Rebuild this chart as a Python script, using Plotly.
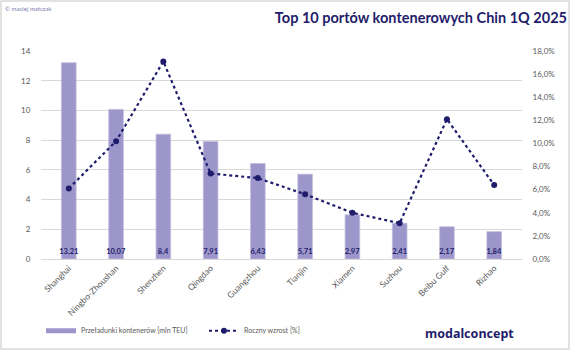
import plotly.graph_objects as go

ports = ["Shanghai", "Ningbo-Zhoushan", "Shenzhen", "Qingdao", "Guangzhou",
         "Tianjin", "Xiamen", "Suzhou", "Beibu Gulf", "Rizhao"]
throughput = [13.21, 10.07, 8.4, 7.91, 6.43, 5.71, 2.97, 2.41, 2.17, 1.84]
growth = [6.1, 10.2, 17.1, 7.4, 7.0, 5.6, 4.0, 3.1, 12.1, 6.4]
labels = [f"{v:g}".replace(".", ",") for v in throughput]

BAR = "#9D96CA"
NAVY = "#1F1D6B"
GRAY = "#595959"
FONT = "Lato, 'Open Sans', sans-serif"

fig = go.Figure()
fig.add_trace(go.Bar(
    x=ports, y=throughput, name="Przeładunki kontenerów [mln TEU]",
    marker=dict(color=BAR, line=dict(color="#C3BEE0", width=0.8)),
    width=0.31, text=labels, textposition="inside", insidetextanchor="start",
    textangle=0, constraintext="none",
    textfont=dict(size=7.5, color=NAVY, family=FONT, weight="bold"),
    showlegend=False, yaxis="y"))
fig.add_trace(go.Scatter(
    x=[None], y=[None], mode="lines", name="Przeładunki kontenerów [mln TEU]",
    line=dict(color=BAR, width=5), yaxis="y"))
fig.add_trace(go.Scatter(
    x=ports, y=growth, mode="lines+markers", name="Roczny wzrost [%]",
    line=dict(color=NAVY, width=2.2, dash="dot"),
    marker=dict(color=NAVY, size=6), yaxis="y2"))

fig.update_layout(
    width=571, height=351,
    margin=dict(l=41, r=49, t=51, b=92, autoexpand=False),
    paper_bgcolor="white", plot_bgcolor="white",
    separators=", ",
    font=dict(family=FONT, color=GRAY, size=8),
    title=dict(text="<b>Top 10 portów kontenerowych Chin 1Q 2025</b>",
               x=567/571, xanchor="right", y=1-18/351, yanchor="middle",
               font=dict(size=14.5, color=NAVY, family=FONT)),
    xaxis=dict(tickangle=-45, tickfont=dict(size=8.5, color=GRAY), automargin=False,
               showgrid=False, linecolor="#D9D9D9", showline=True, ticks=""),
    yaxis=dict(range=[0, 14], dtick=2, gridcolor="#D9D9D9", gridwidth=1,
               zeroline=False, tickfont=dict(size=8, color=GRAY), automargin=False,
               ticklen=8, ticks="outside", tickcolor="white"),
    yaxis2=dict(range=[0, 18], dtick=2, overlaying="y", side="right",
                tickformat=".1f", ticksuffix="%", showgrid=False, automargin=False,
                zeroline=False, tickfont=dict(size=8, color=GRAY),
                ticklen=8, ticks="outside", tickcolor="white"),
    legend=dict(orientation="h", x=0.0, y=-0.345, xanchor="left", yanchor="middle",
                font=dict(size=7, color=GRAY), itemwidth=30, entrywidth=118,
                traceorder="normal"),
    bargap=0.5,
)

fig.add_annotation(text="© maciej matczak", xref="paper", yref="paper",
                   x=-0.078, y=(259-8)/208, xanchor="left", yanchor="middle",
                   showarrow=False, font=dict(size=6, color="#7F7AAE"))
fig.add_annotation(text="<b>modalconcept</b>", xref="paper", yref="paper",
                   x=(469-41)/481, y=(259-333)/208, xanchor="center", yanchor="middle",
                   showarrow=False, font=dict(size=12.5, color=NAVY, family="'Noto Sans', sans-serif"))
fig.add_shape(type="rect", xref="paper", yref="paper",
              x0=(1-41)/481, x1=(569-41)/481, y0=(259-349)/208, y1=(259-1)/208,
              line=dict(color="#D9D9D9", width=1.5), fillcolor="rgba(0,0,0,0)", layer="below")

fig.write_html("out.html")
